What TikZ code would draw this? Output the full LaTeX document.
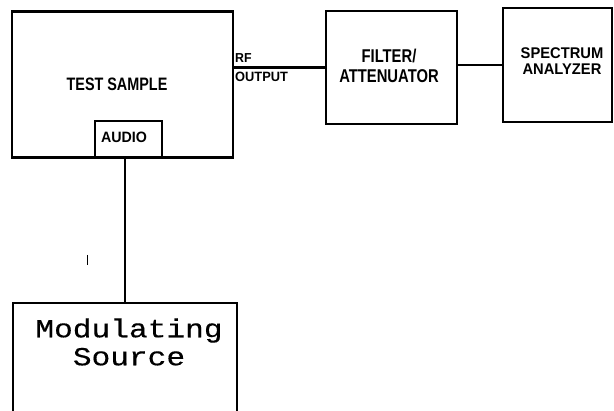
\documentclass[tikz,border=0pt]{standalone}
\usepackage{fontspec}
\newfontfamily\blockfont[FakeStretch=0.8]{Liberation Sans Bold}
\newfontfamily\widefont[FakeStretch=0.95]{Liberation Sans Bold}
\newfontfamily\typefont[FakeStretch=1.2,FakeBold=0.4]{Liberation Mono}
\usetikzlibrary{positioning}

\begin{document}
\begin{tikzpicture}[x=1pt,y=-1pt,
  box/.style={draw,line width=2.6pt,inner sep=0pt},
  tag/.style={inner sep=0pt,font=\blockfont\fontsize{18}{18}\selectfont,align=center},
  wire/.style={line width=2.6pt}]
  \useasboundingbox (0,0) rectangle (614,411);
  \clip (0,0) rectangle (614,411);

  \node [box,minimum width=221pt,minimum height=146pt] (test) at (122.5,84.5) {};
  \node [box,minimum width=67pt,minimum height=36pt] (audio) at (128.5,139) {};
  \node [box,minimum width=131pt,minimum height=113pt] (filter) at (391.5,67.5) {};
  \node [box,minimum width=109pt,minimum height=114pt] (spec) at (557.5,65) {};
  \node [box,minimum width=224pt,minimum height=128pt] (mod) at (125,367) {};

  \node [tag] (testlabel) at (117,84) {TEST SAMPLE};
  \node [tag,font=\widefont\fontsize{15}{15}\selectfont] (audiolabel) at (124,137) {AUDIO};
  \node [tag,font=\blockfont\fontsize{18.5}{20}\selectfont] (filterlabel) at (389,66) {FILTER/\\ATTENUATOR};
  \node [tag,font=\widefont\fontsize{15.5}{15.5}\selectfont] (speclabel) at (562,61) {SPECTRUM\\ANALYZER};
  \node [tag,anchor=west,font=\widefont\fontsize{13}{12}\selectfont] (rflabel) at (235,58) {RF};
  \node [tag,anchor=west,font=\widefont\fontsize{13.5}{13}\selectfont] (outlabel) at (235,76.5) {OUTPUT};
  \node [inner sep=0pt,font=\typefont\fontsize{26}{28}\selectfont,align=center] (modlabel) at (129,342) {Modulating\\Source};

  \draw [wire] (test.east |- filter.west) -- (filter.west);
  \draw [wire] (filter.east |- spec.west) -- (spec.west);
  \draw [wire] (mod.north) -- (mod.north |- audio.south);
  \draw [line width=1.2pt] (87.5,255) -- (87.5,265);
\end{tikzpicture}
\end{document}
